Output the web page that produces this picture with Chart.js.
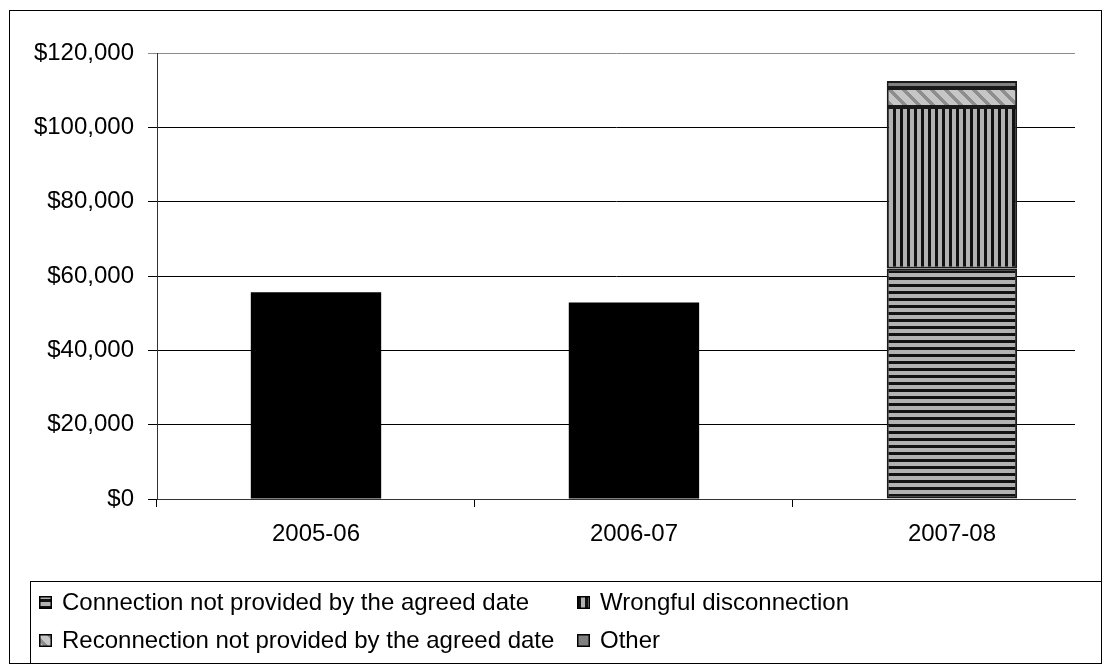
<!DOCTYPE html>
<html>
<head>
<meta charset="utf-8">
<script src="https://cdn.jsdelivr.net/npm/chart.js@4/dist/chart.umd.min.js"></script>
<style>
  html, body { margin: 0; padding: 0; background: #fff; }
  canvas { display: block; }
</style>
</head>
<body>
<canvas id="c" width="1116" height="667"></canvas>
<script>
// Guaranteed Service Level payments by year
const categories = ['2005-06', '2006-07', '2007-08'];
const totalPaid = [55600, 52900, null];
const connectionLate = [null, null, 62000];
const wrongfulDisconnection = [null, null, 43500];
const reconnectionLate = [null, null, 5100];
const otherPaid = [null, null, 1900];
const seriesNames = [
  'Connection not provided by the agreed date',
  'Wrongful disconnection',
  'Reconnection not provided by the agreed date',
  'Other'
];
const yMin = 0, yMax = 120000, yStep = 20000;
// category index range shown along the x axis
const xMin = -0.5, xMax = 2.387;

const FONT = 'Liberation Sans, Arial, sans-serif';
const FONT_SIZE = 24;

function tile(w, h, paint) {
  const c = document.createElement('canvas');
  c.width = w; c.height = h;
  const g = c.getContext('2d');
  paint(g, w, h);
  return g.createPattern(c, 'repeat');
}
// horizontal stripes
const hStripes = tile(7, 7, (g, w, h) => {
  g.fillStyle = '#b2b2b2'; g.fillRect(0, 0, w, h);
  g.fillStyle = '#121212'; g.fillRect(0, 4, w, 3);
});
// vertical stripes
const vStripes = tile(7, 7, (g, w, h) => {
  g.fillStyle = '#b2b2b2'; g.fillRect(0, 0, w, h);
  g.fillStyle = '#121212'; g.fillRect(4, 0, 3, h);
});
// diagonal stripes running down to the right
const dStripes = tile(14, 14, (g, w, h) => {
  g.fillStyle = '#c6c6c6'; g.fillRect(0, 0, w, h);
  g.fillStyle = '#8e8e8e';
  for (let y = 0; y < h; y++) {
    for (let x = 0; x < w; x++) {
      const d = ((x - y) % w + w) % w;
      if (d < 5) g.fillRect(x, y, 1, 1);
    }
  }
});
const otherFill = '#808080';
const fills = [hStripes, vStripes, dStripes, otherFill];

const toPoints = arr => arr.map((v, i) => ({ x: i, y: v }));

const backgroundPlugin = {
  id: 'background',
  beforeDraw(chart) {
    const ctx = chart.ctx;
    ctx.save();
    ctx.fillStyle = '#fff';
    ctx.fillRect(0, 0, chart.width, chart.height);
    ctx.restore();
  }
};

// outer frame and the boxed two-column legend
const framePlugin = {
  id: 'frame',
  afterDraw(chart) {
    const ctx = chart.ctx;
    ctx.save();
    ctx.strokeStyle = '#000';
    ctx.lineWidth = 1;
    ctx.strokeRect(9.5, 10.5, 1092, 653);
    ctx.strokeRect(30.5, 581.5, 1071, 82);
    ctx.font = FONT_SIZE + 'px ' + FONT;
    ctx.textBaseline = 'middle';
    const cols = [39, 577];
    const rows = [602, 640];
    seriesNames.forEach((name, i) => {
      const x = cols[i % 2], y = rows[Math.floor(i / 2)];
      ctx.fillStyle = fills[i];
      ctx.fillRect(x, y - 6, 13, 13);
      ctx.strokeStyle = '#000';
      ctx.lineWidth = 1.5;
      ctx.strokeRect(x + 0.75, y - 5.25, 11.5, 11.5);
      ctx.fillStyle = '#000';
      ctx.fillText(name, x + 23, y + 1);
    });
    ctx.restore();
  }
};

const segBorder = '#1a1a1a';

new Chart(document.getElementById('c'), {
  type: 'bar',
  data: {
    datasets: [
      { label: 'Total', data: toPoints(totalPaid), backgroundColor: '#000', borderWidth: 0 },
      { label: seriesNames[0], data: toPoints(connectionLate), backgroundColor: hStripes, borderColor: segBorder, borderWidth: 2, borderSkipped: false },
      { label: seriesNames[1], data: toPoints(wrongfulDisconnection), backgroundColor: vStripes, borderColor: segBorder, borderWidth: 2, borderSkipped: false },
      { label: seriesNames[2], data: toPoints(reconnectionLate), backgroundColor: dStripes, borderColor: segBorder, borderWidth: 2, borderSkipped: false },
      { label: seriesNames[3], data: toPoints(otherPaid), backgroundColor: otherFill, borderColor: segBorder, borderWidth: 2, borderSkipped: false }
    ]
  },
  options: {
    responsive: false,
    animation: false,
    devicePixelRatio: 1,
    layout: { padding: { left: 0, top: 53, right: 41, bottom: 108 } },
    datasets: { bar: { categoryPercentage: 1, barPercentage: 0.41 } },
    plugins: { legend: { display: false }, tooltip: { enabled: false } },
    scales: {
      x: {
        type: 'linear',
        stacked: true,
        offset: false,
        min: xMin, max: xMax,
        afterBuildTicks(s) { s.ticks = categories.map((_, i) => ({ value: i })); },
        grid: { drawOnChartArea: false, tickLength: 8, color: '#000', offset: true },
        border: { color: '#333', width: 1 },
        ticks: {
          color: '#000',
          font: { family: FONT, size: FONT_SIZE },
          padding: 13,
          maxRotation: 0,
          autoSkip: false,
          callback: (v, i) => categories[i]
        },
        afterFit(s) { s.height = 60; }
      },
      y: {
        stacked: true,
        min: yMin, max: yMax,
        grid: {
          tickLength: 9,
          lineWidth: 1,
          color: c => (c.tick && c.tick.value === yMax) ? '#8c8c8c' : '#000'
        },
        border: { color: '#333', width: 1 },
        ticks: {
          stepSize: yStep,
          color: '#000',
          font: { family: FONT, size: FONT_SIZE },
          padding: 14,
          callback: v => '$' + Number(v).toLocaleString('en-US')
        },
        afterFit(s) { s.width = 157; }
      }
    }
  },
  plugins: [backgroundPlugin, framePlugin]
});
</script>
</body>
</html>
